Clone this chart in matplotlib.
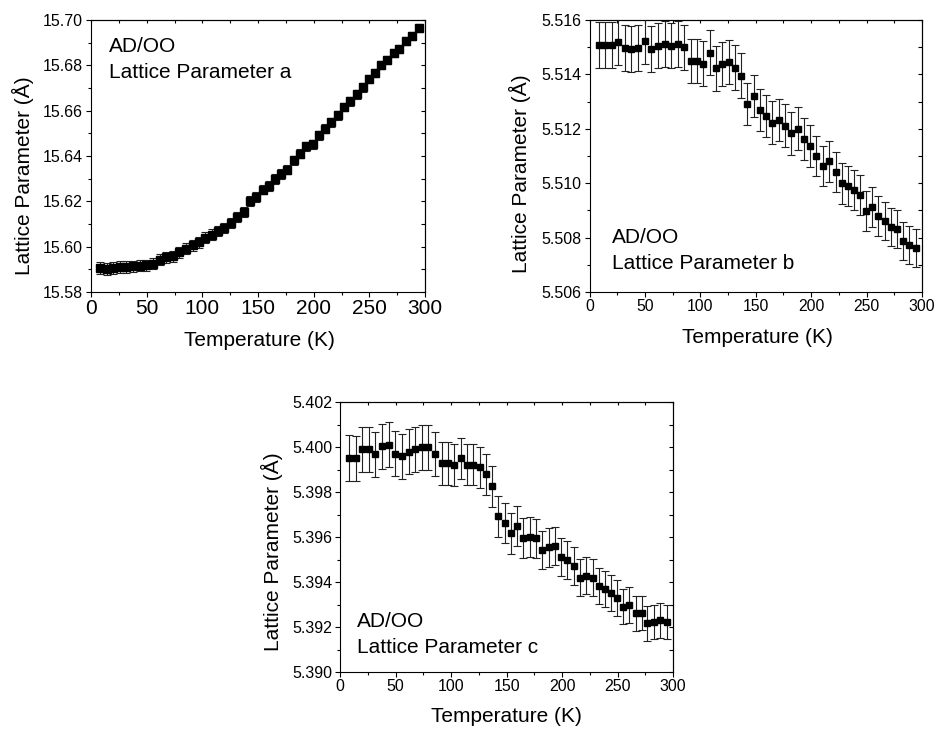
import matplotlib
matplotlib.use("Agg")
import matplotlib.pyplot as plt
from matplotlib.ticker import MultipleLocator, FormatStrFormatter

plt.rcParams['font.family'] = ['Liberation Sans', 'DejaVu Sans']

# ---------------- data ----------------
temperature = [8.2, 14.2, 19.9, 25.7, 31.6, 37.7, 43.7, 49.7, 55.7, 61.7,
               67.7, 73.7, 79.4, 85.7, 91.7, 97.1, 102.8, 108.6, 114.5, 119.9,
               125.7, 131.4, 137.0, 142.5, 148.5, 154.2, 159.6, 165.0, 171.0, 176.4,
               182.0, 187.8, 193.5, 199.2, 204.6, 210.4, 216.0, 222.0, 227.5, 232.9,
               238.6, 244.0, 249.6, 255.0, 260.5, 266.2, 271.9, 277.0, 282.7, 288.7,
               294.7]

lattice_a = [15.5906, 15.5901, 15.5906, 15.5909, 15.5910, 15.5913, 15.5916, 15.5918, 15.5925, 15.5943,
             15.5954, 15.5957, 15.5975, 15.5991, 15.6006, 15.6019, 15.6040, 15.6053, 15.6069, 15.6084,
             15.6105, 15.6131, 15.6153, 15.6200, 15.6219, 15.6252, 15.6267, 15.6298, 15.6320, 15.6340,
             15.6381, 15.6411, 15.6443, 15.6452, 15.6492, 15.6521, 15.6548, 15.6580, 15.6617, 15.6641,
             15.6672, 15.6703, 15.6738, 15.6767, 15.6800, 15.6823, 15.6853, 15.6872, 15.6906, 15.6929,
             15.6963]
err_a = [0.0026, 0.0026, 0.0026, 0.0026, 0.0025, 0.0025, 0.0025, 0.0025, 0.0025, 0.0024,
         0.0024, 0.0024, 0.0024, 0.0023, 0.0023, 0.0023, 0.0023, 0.0023, 0.0022, 0.0022,
         0.0022, 0.0022, 0.0022, 0.0022, 0.0021, 0.0021, 0.0021, 0.0021, 0.0021, 0.0020,
         0.0020, 0.0020, 0.0020, 0.0020, 0.0020, 0.0019, 0.0019, 0.0019, 0.0019, 0.0019,
         0.0019, 0.0019, 0.0018, 0.0018, 0.0018, 0.0018, 0.0018, 0.0018, 0.0018, 0.0018,
         0.0018]

lattice_b = [5.51508, 5.51508, 5.51508, 5.51520, 5.51496, 5.51493, 5.51496, 5.51524, 5.51493, 5.51506,
             5.51512, 5.51506, 5.51512, 5.51499, 5.51449, 5.51449, 5.51440, 5.51480, 5.51422, 5.51438,
             5.51445, 5.51425, 5.51395, 5.51291, 5.51320, 5.51269, 5.51247, 5.51223, 5.51232, 5.51212,
             5.51183, 5.51201, 5.51162, 5.51136, 5.51099, 5.51063, 5.51080, 5.51042, 5.50999, 5.50989,
             5.50974, 5.50956, 5.50897, 5.50912, 5.50879, 5.50860, 5.50838, 5.50833, 5.50788, 5.50772,
             5.50763]
err_b = [0.00084, 0.00084, 0.00084, 0.00084, 0.00084, 0.00084, 0.00084, 0.00084, 0.00084, 0.00084,
         0.00084, 0.00084, 0.00084, 0.00084, 0.00082, 0.00082, 0.00082, 0.00082, 0.00082, 0.00082,
         0.00082, 0.00082, 0.00082, 0.00078, 0.00078, 0.00078, 0.00078, 0.00078, 0.00078, 0.00078,
         0.00078, 0.00078, 0.00078, 0.00078, 0.00074, 0.00074, 0.00074, 0.00074, 0.00074, 0.00074,
         0.00074, 0.00074, 0.00074, 0.00074, 0.00074, 0.00070, 0.00070, 0.00070, 0.00070, 0.00070,
         0.00070]

lattice_c = [5.39953, 5.39949, 5.39990, 5.39990, 5.39967, 5.40004, 5.40011, 5.39969, 5.39959, 5.39980,
             5.39990, 5.39998, 5.39998, 5.39967, 5.39927, 5.39927, 5.39919, 5.39949, 5.39922, 5.39922,
             5.39910, 5.39878, 5.39826, 5.39692, 5.39662, 5.39616, 5.39649, 5.39594, 5.39599, 5.39594,
             5.39542, 5.39554, 5.39559, 5.39510, 5.39498, 5.39471, 5.39420, 5.39427, 5.39420, 5.39383,
             5.39368, 5.39350, 5.39328, 5.39291, 5.39298, 5.39262, 5.39262, 5.39217, 5.39222, 5.39229,
             5.39222]
err_c = [0.00102, 0.00102, 0.00100, 0.00100, 0.00100, 0.00100, 0.00100, 0.00100, 0.00100, 0.00100,
         0.00100, 0.00100, 0.00099, 0.00098, 0.00096, 0.00095, 0.00094, 0.00093, 0.00092, 0.00092,
         0.00091, 0.00091, 0.00091, 0.00091, 0.00090, 0.00090, 0.00089, 0.00089, 0.00088, 0.00088,
         0.00086, 0.00086, 0.00085, 0.00085, 0.00084, 0.00083, 0.00082, 0.00082, 0.00081, 0.00080,
         0.00080, 0.00079, 0.00079, 0.00078, 0.00078, 0.00078, 0.00077, 0.00077, 0.00077, 0.00077,
         0.00077]

xlabel = "Temperature (K)"
ylabel = "Lattice Parameter (\u00c5)"
sample = "AD/OO"
titles = ["Lattice Parameter a", "Lattice Parameter b", "Lattice Parameter c"]

# ---------------- figure ----------------
W, H = 939, 735
fig = plt.figure(figsize=(W / 100, H / 100), dpi=100)


def px_axes(left, top, right, bottom):
    return fig.add_axes([left / W, 1 - bottom / H, (right - left) / W, (bottom - top) / H])


def style_axis(ax, ylim, ymaj, ymin, yfmt, xtick_size, ytick_size):
    ax.set_xlim(0, 300)
    ax.set_ylim(*ylim)
    ax.xaxis.set_major_locator(MultipleLocator(50))
    ax.xaxis.set_minor_locator(MultipleLocator(25))
    ax.yaxis.set_major_locator(MultipleLocator(ymaj))
    ax.yaxis.set_minor_locator(MultipleLocator(ymin))
    ax.yaxis.set_major_formatter(FormatStrFormatter(yfmt))
    for s in ax.spines.values():
        s.set_linewidth(0.8)
    ax.tick_params(which='both', direction='out', width=0.8, top=False, right=False)
    ax.tick_params(which='major', length=3.8)
    ax.tick_params(which='minor', length=2.0)
    ax.tick_params(axis='x', which='major', labelsize=xtick_size, pad=1.0)
    ax.tick_params(axis='y', which='major', labelsize=ytick_size, pad=2.0)
    # inward ticks on top and right
    top = ax.secondary_xaxis('top')
    top.xaxis.set_major_locator(MultipleLocator(50))
    top.xaxis.set_minor_locator(MultipleLocator(25))
    top.tick_params(which='both', direction='in', width=0.8, labeltop=False, length=2.3)
    top.spines['top'].set_linewidth(0.8)
    right = ax.secondary_yaxis('right')
    right.yaxis.set_major_locator(MultipleLocator(ymaj))
    right.yaxis.set_minor_locator(MultipleLocator(ymin))
    right.tick_params(which='both', direction='in', width=0.8, labelright=False, length=2.8)
    right.spines['right'].set_linewidth(0.8)


def draw(ax, y, err, ms):
    ax.errorbar(temperature, y, yerr=err, fmt='s', color='black', ms=ms,
                ecolor='#222222', elinewidth=0.8, capsize=2.8, capthick=0.8, zorder=3)


def labels(ax, xl_pos, yl_pos):
    ax.set_xlabel(xlabel, fontsize=15)
    ax.set_ylabel(ylabel, fontsize=15)
    ax.xaxis.label.set_verticalalignment('center')
    ax.yaxis.label.set_verticalalignment('center')
    ax.xaxis.set_label_coords(*xl_pos)
    ax.yaxis.set_label_coords(*yl_pos)


def annot(ax, x, y1, y2, title):
    ax.text(x, y1, sample, transform=ax.transAxes, fontsize=15, ha='left', va='baseline')
    ax.text(x, y2, title, transform=ax.transAxes, fontsize=15, ha='left', va='baseline')


# Panel a
ax_a = px_axes(91, 20, 425, 292)
draw(ax_a, lattice_a, err_a, 5.6)
style_axis(ax_a, (15.58, 15.70), 0.02, 0.01, '%.2f', 15, 11.5)
labels(ax_a, (0.5045, -0.18), (-0.204, 0.4265))
annot(ax_a, 0.055, 0.8835, 0.7857, titles[0])

# Panel b
ax_b = px_axes(589.5, 20, 922, 292)
draw(ax_b, lattice_b, err_b, 4.9)
style_axis(ax_b, (5.506, 5.516), 0.002, 0.001, '%.3f', 11.3, 11.5)
labels(ax_b, (0.504, -0.169), (-0.209, 0.434))
annot(ax_b, 0.0686, 0.179, 0.0835, titles[1])

# Panel c
ax_c = px_axes(340.2, 402, 673, 672)
draw(ax_c, lattice_c, err_c, 4.9)
style_axis(ax_c, (5.390, 5.402), 0.002, 0.001, '%.3f', 11.5, 11.5)
labels(ax_c, (0.5003, -0.163), (-0.205, 0.444))
annot(ax_c, 0.0514, 0.1678, 0.069, titles[2])

fig.savefig("out.png", dpi=100)
